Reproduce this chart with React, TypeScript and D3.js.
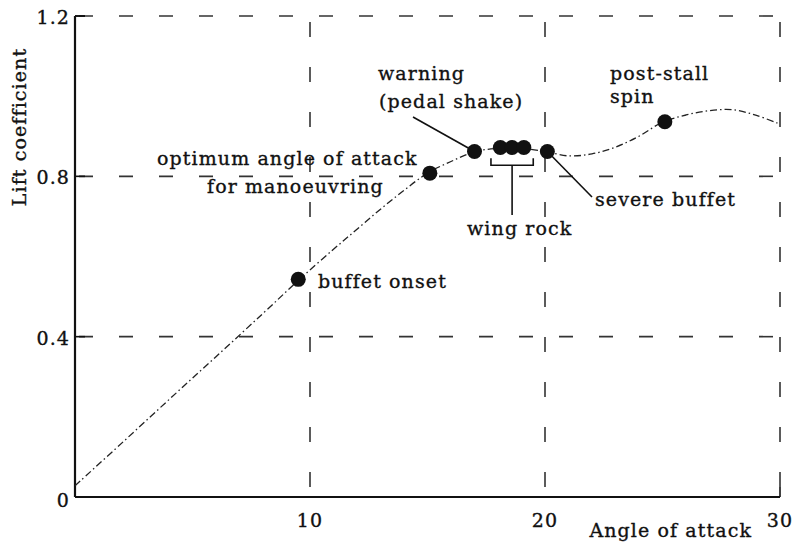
import React from "react";
import * as d3 from "d3";

// ---- data ----
const curveAngle = [0, 2, 4, 6, 8, 9.5, 11, 12, 13, 14, 15, 16, 17, 18, 19, 20, 21, 22, 23, 24, 25, 26, 27, 28, 29, 30];
const curveLift = [0.028, 0.135, 0.243, 0.35, 0.458, 0.54, 0.618, 0.668, 0.718, 0.765, 0.808, 0.837, 0.861, 0.87, 0.87, 0.862, 0.851, 0.856, 0.873, 0.9, 0.935, 0.953, 0.964, 0.966, 0.952, 0.93];

const pointAngle = [9.5, 15.1, 17.0, 18.1, 18.6, 19.1, 20.1, 25.1];
const pointLift = [0.543, 0.808, 0.862, 0.872, 0.872, 0.872, 0.862, 0.936];

const xTicks = [10, 20, 30];
const yTicks = [0.4, 0.8, 1.2];
const xGrid = [10, 20];
const yGrid = [0.4, 0.8];

const W = 799;
const H = 550;

export default function App() {
  const x = d3.scaleLinear().domain([0, 30]).range([75, 780]);
  const y = d3.scaleLinear().domain([0, 1.2]).range([497, 16]);

  const line = d3
    .line<number>()
    .x((_, i) => x(curveAngle[i]))
    .y((d) => y(d))
    .curve(d3.curveCatmullRom.alpha(0.5));

  const font = "DejaVu Serif";
  const txt = { fontFamily: font, fontSize: 19, fill: "#111", stroke: "#111", strokeWidth: 0.35, letterSpacing: 1.1 } as React.CSSProperties;

  const gridColor = "#333";
  const x0 = x(0), x30 = x(30), y0 = y(0), y12 = y(1.2);

  return (
    <svg width={W} height={H} style={{ position: "absolute", left: 0, top: 0, background: "#fff" }}>
      {/* gridlines */}
      {yGrid.map((v) => (
        <line key={"hy" + v} x1={x0} x2={x30} y1={y(v)} y2={y(v)} stroke={gridColor} strokeWidth={1.6} strokeDasharray="14 26" strokeDashoffset={-4} />
      ))}
      {xGrid.map((v) => (
        <line key={"vx" + v} x1={x(v)} x2={x(v)} y1={y12} y2={y0} stroke={gridColor} strokeWidth={1.6} strokeDasharray="15 30" strokeDashoffset={-6} />
      ))}
      {/* top and right borders dashed */}
      <line x1={x0} x2={x30} y1={y12} y2={y12} stroke={gridColor} strokeWidth={1.6} strokeDasharray="14 26" strokeDashoffset={-4} />
      <line x1={x30} x2={x30} y1={y12} y2={y0} stroke={gridColor} strokeWidth={1.6} strokeDasharray="15 30" strokeDashoffset={-6} />
      <line x1={x0} x2={x0 + 10} y1={y12} y2={y12} stroke="#111" strokeWidth={1.6} />
      {yTicks.map((v) => (
        <line key={"t" + v} x1={x0} x2={x0 + 10} y1={y(v)} y2={y(v)} stroke="#111" strokeWidth={1.6} />
      ))}
      {/* axes */}
      <line x1={x0} x2={x0} y1={y12} y2={y0} stroke="#111" strokeWidth={2.2} />
      <line x1={x0} x2={x30} y1={y0} y2={y0} stroke="#111" strokeWidth={2.2} />
      <line x1={x30} x2={x30} y1={y0 - 10} y2={y0} stroke="#111" strokeWidth={1.6} />

      {/* curve */}
      <path d={line(curveLift) || ""} fill="none" stroke="#222" strokeWidth={1.3} strokeDasharray="7 3 1.5 3" />

      {/* leader lines */}
      <line x1={413} y1={117} x2={x(17.0)} y2={y(0.862)} stroke="#111" strokeWidth={1.6} />
      <line x1={x(20.1)} y1={y(0.862)} x2={592} y2={197} stroke="#111" strokeWidth={1.6} />
      {/* wing rock bracket */}
      <path d={`M${x(17.7)},${y(0.87) + 10} V${y(0.87) + 17} H${x(19.5)} V${y(0.87) + 10}`} fill="none" stroke="#111" strokeWidth={1.6} />
      <line x1={x(18.6)} x2={x(18.6)} y1={y(0.87) + 17} y2={215} stroke="#111" strokeWidth={1.6} />

      {/* points */}
      {pointAngle.map((a, i) => (
        <circle key={"p" + i} cx={x(a)} cy={y(pointLift[i])} r={7.5} fill="#111" />
      ))}

      {/* tick labels */}
      {yTicks.map((v) => (
        <text key={"yl" + v} x={70} y={y(v) + 8} textAnchor="end" style={txt}>{v.toFixed(1)}</text>
      ))}
      <text x={70} y={y0 + 10} textAnchor="end" style={txt}>0</text>
      {xTicks.map((v) => (
        <text key={"xl" + v} x={x(v)} y={527} textAnchor="middle" style={txt}>{v}</text>
      ))}

      {/* axis titles */}
      <text x={752} y={537} textAnchor="end" style={txt}>Angle of attack</text>
      <text transform={`translate(26,127) rotate(-90)`} textAnchor="middle" style={txt}>Lift coefficient</text>

      {/* annotations */}
      <text x={378} y={80} style={txt}>warning</text>
      <text x={379} y={108} style={txt}>(pedal shake)</text>
      <text x={157} y={165} style={txt}>optimum angle of attack</text>
      <text x={207} y={193} style={txt}>for manoeuvring</text>
      <text x={318} y={288} style={txt}>buffet onset</text>
      <text x={467} y={235} style={txt}>wing rock</text>
      <text x={595} y={206} style={txt}>severe buffet</text>
      <text x={610} y={80} style={txt}>post-stall</text>
      <text x={610} y={103} style={txt}>spin</text>
    </svg>
  );
}
